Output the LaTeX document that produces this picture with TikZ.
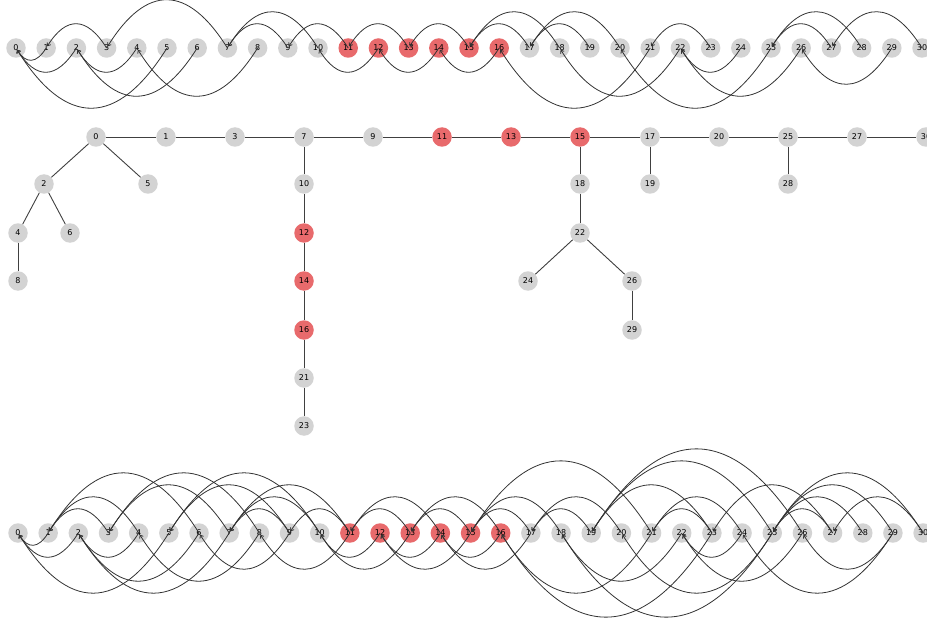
\documentclass[tikz,border=0pt]{standalone}
\usepackage{fontspec}
\setmainfont{DejaVu Sans}
\usetikzlibrary{arrows.meta}
\definecolor{nodegray}{RGB}{211,211,211}
\definecolor{nodered}{RGB}{232,106,108}
\tikzset{
  vert/.style={circle,inner sep=0pt,minimum size=19.5pt,font=\fontsize{8}{9}\selectfont},
  cold/.style={vert,fill=nodegray},
  hot/.style={vert,fill=nodered},
  arc/.style={black!80,line width=0.8pt,-{Straight Barb[length=2.6pt,width=4.2pt]},shorten >=2pt},
  arcup/.style={out=122,in=58,looseness=1.6},
  arcdown/.style={out=-122,in=-58,looseness=1.6},
  treeedge/.style={black!75,line width=0.9pt}
}
\begin{document}
\begin{tikzpicture}[x=1pt,y=-1pt]
  \useasboundingbox (0,0) rectangle (927,623);
  % top row
  \foreach \i in {0,...,10,17,18,...,30}
    \node[cold] (t\i) at ({16+30.2*\i},48) {\i};
  \foreach \i in {11,...,16}
    \node[hot] (t\i) at ({16+30.2*\i},48) {\i};
  \foreach \p/\c in {0/1,0/2,0/5,1/3,2/4,2/6,3/7,4/8,7/9,7/10,9/11,10/12,11/13,12/14,
      13/15,14/16,15/17,15/18,16/21,17/19,17/20,18/22,20/25,21/23,22/24,22/26,25/27,
      25/28,26/29,27/30}{
    \ifodd\p
      \draw[arc] (t\c.center) to[arcup] (t\p.center);
    \else
      \draw[arc] (t\c.center) to[arcdown] (t\p.center);
    \fi
  }
  % middle tree
  \foreach \n/\x/\y in {0/96/137,1/166/137,3/235/137,7/304/137,9/373/137,17/650/137,
      20/719/137,25/788/137,27/857/137,30/926/137,2/44/184,5/148/184,10/304/184,
      18/580/184,19/650/184,28/788/184,4/18/233,6/70/233,22/580/233,8/18/281,
      24/528/281,26/632/281,29/632/330,21/304/378,23/304/426}
    \node[cold] (m\n) at (\x,\y) {\n};
  \foreach \n/\x/\y in {11/442/137,13/511/137,15/580/137,12/304/233,14/304/281,16/304/330}
    \node[hot] (m\n) at (\x,\y) {\n};
  \foreach \p/\c in {0/1,0/2,0/5,1/3,2/4,2/6,3/7,4/8,7/9,7/10,9/11,10/12,11/13,12/14,
      13/15,14/16,15/17,15/18,16/21,17/19,17/20,18/22,20/25,21/23,22/24,22/26,25/27,
      25/28,26/29,27/30}
    \draw[treeedge] (m\p) -- (m\c);
  % bottom row
  \foreach \i in {0,...,10,17,18,...,30}
    \node[cold] (b\i) at ({18+30.17*\i},533) {\i};
  \foreach \i in {11,...,16}
    \node[hot] (b\i) at ({18+30.17*\i},533) {\i};
  \foreach \p/\c in {0/1,0/2,0/5,1/3,2/4,2/6,3/7,4/8,7/9,7/10,9/11,10/12,11/13,12/14,
      13/15,14/16,15/17,15/18,16/21,17/19,17/20,18/22,20/25,21/23,22/24,22/26,25/27,
      25/28,26/29,27/30,1/4,1/6,3/8,5/10,2/7,19/23,19/25,19/26,21/24,23/27,25/29,
      25/30,24/29,18/25,16/23,6/9,5/9,7/11,15/21,8/11,11/14,13/16,10/13,12/15,14/17}{
    \ifodd\p
      \draw[arc] (b\c.center) to[arcup] (b\p.center);
    \else
      \draw[arc] (b\c.center) to[arcdown] (b\p.center);
    \fi
  }
\end{tikzpicture}
\end{document}
